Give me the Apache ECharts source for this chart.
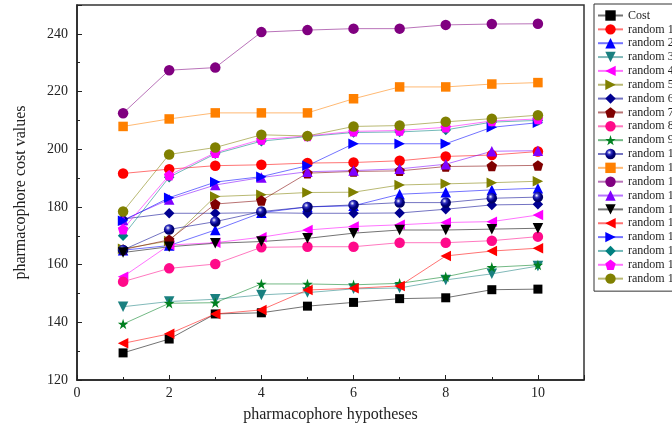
<!DOCTYPE html>
<html>
<head>
<meta charset="utf-8">
<script src="https://cdn.jsdelivr.net/npm/echarts@6/dist/echarts.min.js"></script>
<style>
html,body{margin:0;padding:0;background:#fff;}
#chart{width:672px;height:430px;}
</style>
</head>
<body>
<div id="chart"></div>
<script>
const xValues = [1, 2, 3, 4, 5, 6, 7, 8, 9, 10];
const seriesNames = ['Cost','random 1','random 2','random 3','random 4','random 5','random 6','random 7','random 8','random 9','random 10','random 11','random 12','random 13','random 14','random 15','random 16','random 17','random 18','random 19'];
const cost     = [129.4, 134.2, 142.9, 143.3, 145.6, 146.9, 148.2, 148.5, 151.3, 151.5];
const random1  = [191.6, 193.1, 194.3, 194.6, 195.2, 195.4, 196.0, 197.5, 198.0, 199.2];
const random2  = [165.0, 166.6, 172.0, 178.0, 180.0, 180.4, 184.4, 185.1, 185.9, 186.5];
const random3  = [145.4, 147.2, 148.0, 149.5, 150.3, 151.6, 151.9, 154.7, 156.8, 159.5];
const random4  = [155.8, 166.8, 167.6, 169.5, 172.0, 173.2, 173.8, 174.6, 174.9, 177.2];
const random5  = [165.5, 168.2, 183.6, 184.2, 185.0, 185.1, 187.6, 188.0, 188.4, 188.9];
const random6  = [175.8, 177.8, 177.8, 178.0, 177.8, 177.8, 177.9, 179.2, 180.7, 180.9];
const random7  = [165.2, 168.6, 181.0, 182.2, 191.7, 192.3, 192.5, 194.0, 194.2, 194.4];
const random8  = [154.1, 158.7, 160.2, 166.0, 166.2, 166.2, 167.6, 167.6, 168.3, 169.7];
const random9  = [139.4, 146.6, 146.8, 153.3, 153.3, 153.0, 153.5, 155.8, 159.1, 159.9];
const random10 = [165.1, 172.2, 174.9, 178.4, 180.0, 180.7, 181.5, 181.5, 183.0, 183.4];
const random11 = [207.9, 210.5, 212.6, 212.6, 212.6, 217.5, 221.6, 221.6, 222.6, 223.1];
const random12 = [212.5, 227.4, 228.3, 240.6, 241.3, 241.8, 241.8, 243.1, 243.4, 243.5];
const random13 = [175.5, 182.6, 187.6, 190.2, 192.2, 192.6, 193.2, 194.8, 199.3, 199.5];
const random14 = [164.2, 166.2, 167.4, 168.0, 169.1, 170.9, 172.0, 172.0, 172.3, 172.6];
const random15 = [132.7, 136.0, 142.9, 144.3, 151.2, 151.8, 152.6, 163.0, 164.7, 165.7];
const random16 = [175.2, 183.2, 188.6, 190.5, 194.3, 201.9, 201.9, 201.9, 207.6, 209.2];
const random17 = [170.0, 190.3, 198.4, 202.8, 204.4, 205.8, 206.0, 206.7, 209.4, 210.0];
const random18 = [172.3, 191.0, 198.8, 203.4, 204.6, 206.2, 206.5, 207.6, 209.8, 210.5];
const random19 = [178.4, 198.2, 200.6, 205.0, 204.6, 207.9, 208.2, 209.5, 210.6, 211.8];
const seriesValues = [cost, random1, random2, random3, random4, random5, random6, random7, random8, random9, random10, random11, random12, random13, random14, random15, random16, random17, random18, random19];
const yTicks = [120, 140, 160, 180, 200, 220, 240];
const xTicks = [0, 2, 4, 6, 8, 10];

const TRI_DOWN = 'path://M0,0 L10,0 L5,9 Z';
const TRI_LEFT = 'path://M0,5 L9,0 L9,10 Z';
const TRI_RIGHT = 'path://M0,0 L9,5 L0,10 Z';
const PENTA = 'path://M5,0 L10,3.8 L8.1,10 L1.9,10 L0,3.8 Z';
const STAR = 'path://M5,0 L6.2,3.6 L10,3.6 L6.9,5.9 L8.1,9.5 L5,7.3 L1.9,9.5 L3.1,5.9 L0,3.6 L3.8,3.6 Z';
const sphere = {type:'radial', x:0.38, y:0.35, r:0.6, colorStops:[{offset:0,color:'#ffffff'},{offset:0.35,color:'#3030c0'},{offset:0.7,color:'#000080'},{offset:1,color:'#000060'}]};

const styles = [
  {c:'#000000', s:'rect', size:9},
  {c:'#ff0000', s:'circle', size:10.5},
  {c:'#0000ff', s:'triangle', size:10.5},
  {c:'#1a8080', s:TRI_DOWN, size:10.5},
  {c:'#ff00ff', s:TRI_LEFT, size:10.5},
  {c:'#808000', s:TRI_RIGHT, size:10.5},
  {c:'#000090', s:'diamond', size:10.5},
  {c:'#800000', s:PENTA, size:10.5},
  {c:'#ff0a8a', s:'circle', size:10.5},
  {c:'#008020', s:STAR, size:10.5},
  {c:'#000090', s:'circle', size:10.5, fill:sphere},
  {c:'#ff8000', s:'rect', size:9.5},
  {c:'#800080', s:'circle', size:10.5},
  {c:'#8000ff', s:'triangle', size:10.5},
  {c:'#000000', s:TRI_DOWN, size:10.5},
  {c:'#ff0000', s:TRI_LEFT, size:10.5},
  {c:'#0000ff', s:TRI_RIGHT, size:10.5},
  {c:'#008080', s:'diamond', size:10.5},
  {c:'#ff00ff', s:PENTA, size:10.5},
  {c:'#808000', s:'circle', size:10.5}
];

const series = seriesNames.map((name, i) => ({
  name: name,
  type: 'line',
  data: xValues.map((x, j) => [x, seriesValues[i][j]]),
  symbol: styles[i].s,
  symbolSize: styles[i].size,
  showAllSymbol: true,
  itemStyle: {color: styles[i].fill || styles[i].c, opacity: 1},
  lineStyle: {color: styles[i].c, width: 1, opacity: 0.55},
  emphasis: {disabled: true},
  animation: false
}));

const font = 'Liberation Serif';
const chart = echarts.init(document.getElementById('chart'), null, {renderer:'canvas'});
chart.setOption({
  backgroundColor: '#ffffff',
  animation: false,
  grid: {left: 77, right: 88, top: 5, bottom: 50, show: true, borderColor: '#333', borderWidth: 1.5, backgroundColor: 'transparent'},
  legend: {
    orient: 'vertical', left: 594, top: 4,
    padding: [5, 5, 6, 3],
    borderColor: '#333', borderWidth: 1,
    itemWidth: 25, itemHeight: 13, itemGap: 0.85,
    data: seriesNames,
    textStyle: {fontFamily: font, fontSize: 12, color: '#222', lineHeight: 13},
    selectedMode: false
  },
  xAxis: {
    type: 'value', min: 0, max: 11, interval: 2,
    name: 'pharmacophore hypotheses', nameLocation: 'middle', nameGap: 27,
    nameTextStyle: {fontFamily: font, fontSize: 16, color: '#222'},
    axisLine: {lineStyle: {color: '#222', width: 1.5}},
    axisTick: {inside: true, length: 5, lineStyle: {color: '#222'}},
    minorTick: {show: true, splitNumber: 2, length: 3, lineStyle: {color: '#222'}},
    axisLabel: {fontFamily: font, fontSize: 14, color: '#222', margin: 6, showMaxLabel: false,
      formatter: v => xTicks.indexOf(v) >= 0 ? String(v) : ''},
    splitLine: {show: false}
  },
  yAxis: {
    type: 'value', min: 120, max: 250, interval: 20,
    name: 'pharmacophore cost values', nameLocation: 'middle', nameGap: 48,
    nameTextStyle: {fontFamily: font, fontSize: 16, color: '#222'},
    axisLine: {show: true, lineStyle: {color: '#222', width: 1.5}},
    axisTick: {show: true, inside: true, length: 5, lineStyle: {color: '#222'}},
    minorTick: {show: true, splitNumber: 2, length: 3, lineStyle: {color: '#222'}},
    axisLabel: {fontFamily: font, fontSize: 14, color: '#222', margin: 9, showMaxLabel: false,
      formatter: v => yTicks.indexOf(v) >= 0 ? String(v) : ''},
    splitLine: {show: false}
  },
  series: series
});
</script>
</body>
</html>
